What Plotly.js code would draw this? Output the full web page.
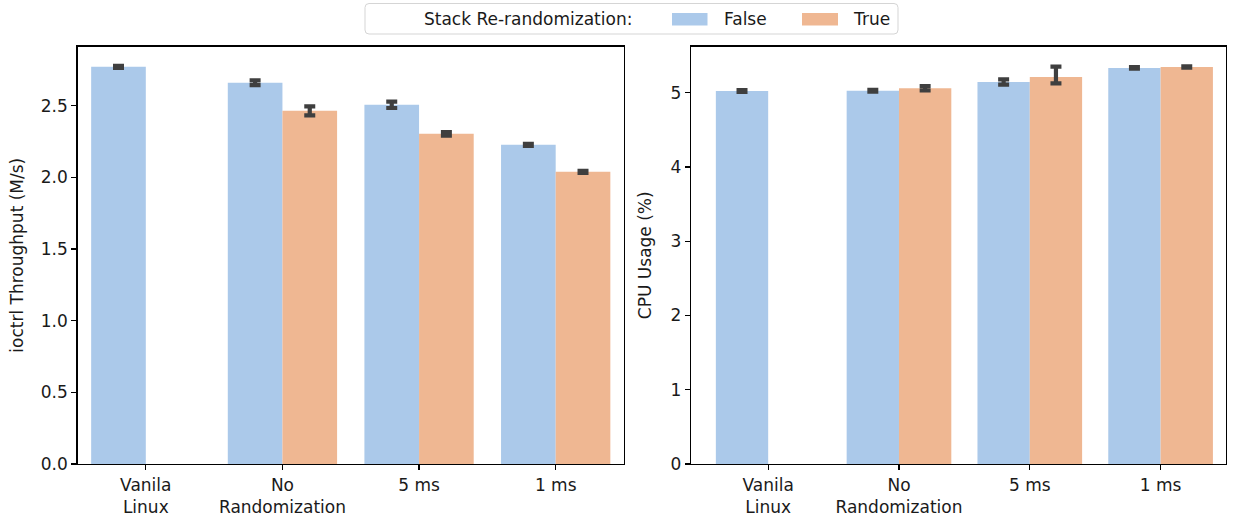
<!DOCTYPE html>
<html>
<head>
<meta charset="utf-8">
<script src="https://cdn.plot.ly/plotly-3.0.1.min.js"></script>
<style>
  html, body { margin: 0; padding: 0; background: #ffffff; }
  #chart { width: 1238px; height: 516px; }
</style>
</head>
<body>
<div id="chart"></div>
<script>
// ---- data ----
const categories = ["Vanila<br>Linux", "No<br>Randomization", "5 ms", "1 ms"];
const seriesNames = ["False", "True"];
const legendTitle = "Stack Re-randomization:";

// ioctrl throughput (M/s)
const thrFalse = [2.770, 2.659, 2.505, 2.226];
const thrFalseErrUp = [0.007, 0.017, 0.022, 0.007];
const thrFalseErrDn = [0.007, 0.017, 0.022, 0.007];
const thrTrue = [null, 2.463, 2.303, 2.038];
const thrTrueErrUp = [0, 0.031, 0.012, 0.007];
const thrTrueErrDn = [0, 0.031, 0.012, 0.007];

// CPU usage (%)
const cpuFalse = [5.023, 5.025, 5.144, 5.333];
const cpuFalseErrUp = [0.012, 0.012, 0.036, 0.010];
const cpuFalseErrDn = [0.012, 0.012, 0.036, 0.010];
const cpuTrue = [null, 5.060, 5.211, 5.346];
const cpuTrueErrUp = [0, 0.030, 0.140, 0.010];
const cpuTrueErrDn = [0, 0.030, 0.086, 0.010];

const yTitles = ["ioctrl Throughput (M/s)", "CPU Usage (%)"];

// ---- style ----
const W = 1238, H = 516;
const colFalse = "#abc9ea";
const colTrue = "#efb792";
const errCol = "#3f3f3f";
const FONT = "DejaVu Sans";
const FS = 17;
const TXT = "#1a1a1a";

function bar(x, y, up, dn, name, color, xa, ya) {
  return {
    type: "bar", x: x, y: y, name: name, xaxis: xa, yaxis: ya,
    marker: { color: color, line: { width: 0 } },
    showlegend: false,
    error_y: { type: "data", symmetric: false, array: up, arrayminus: dn,
               color: errCol, thickness: 4.2, width: 5.5 },
    hoverinfo: "x+y"
  };
}

const traces = [
  bar(categories, thrFalse, thrFalseErrUp, thrFalseErrDn, seriesNames[0], colFalse, "x", "y"),
  bar(categories, thrTrue, thrTrueErrUp, thrTrueErrDn, seriesNames[1], colTrue, "x", "y"),
  bar(categories, cpuFalse, cpuFalseErrUp, cpuFalseErrDn, seriesNames[0], colFalse, "x2", "y2"),
  bar(categories, cpuTrue, cpuTrueErrUp, cpuTrueErrDn, seriesNames[1], colTrue, "x2", "y2")
];

const px = v => v / W;
const py = v => 1 - v / H;

const axCommon = {
  showline: true, linecolor: "#000000", linewidth: 1.25, mirror: true,
  ticks: "outside", ticklen: 5, tickwidth: 1.25, tickcolor: "#000000",
  showgrid: false, zeroline: false,
  tickfont: { family: FONT, size: FS, color: TXT },
  fixedrange: true
};

const yDom = [1 - 464 / H, 1 - 46.5 / H];

const layout = {
  width: W, height: H,
  margin: { l: 0, r: 0, t: 0, b: 0 },
  paper_bgcolor: "#ffffff", plot_bgcolor: "#ffffff",
  barmode: "group", bargap: 0.2, bargroupgap: 0,
  font: { family: FONT, size: FS, color: TXT },
  showlegend: false,
  xaxis: Object.assign({}, axCommon, { domain: [px(77.5), px(624)], anchor: "y",
    type: "category", range: [-0.5, 3.5] }),
  yaxis: Object.assign({}, axCommon, { domain: yDom, anchor: "x",
    range: [0, 2.912], tickvals: [0, 0.5, 1, 1.5, 2, 2.5], tickformat: ".1f",
    title: { text: yTitles[0], font: { family: FONT, size: FS, color: TXT }, standoff: 12 } }),
  xaxis2: Object.assign({}, axCommon, { domain: [px(691), px(1226)], anchor: "y2",
    type: "category", range: [-0.59, 3.5] }),
  yaxis2: Object.assign({}, axCommon, { domain: yDom, anchor: "x2",
    range: [0, 5.622], tickvals: [0, 1, 2, 3, 4, 5],
    title: { text: yTitles[1], font: { family: FONT, size: FS, color: TXT }, standoff: 14 } }),
  shapes: [],
  annotations: []
};

// legend box (rounded)
(function () {
  const x0 = 365, x1 = 898, y0 = 3.5, y1 = 34, r = 4;
  const P = (x, y) => px(x) + "," + py(y);
  const path = "M" + P(x0 + r, y0) + " L" + P(x1 - r, y0) + " Q" + P(x1, y0) + " " + P(x1, y0 + r) +
    " L" + P(x1, y1 - r) + " Q" + P(x1, y1) + " " + P(x1 - r, y1) +
    " L" + P(x0 + r, y1) + " Q" + P(x0, y1) + " " + P(x0, y1 - r) +
    " L" + P(x0, y0 + r) + " Q" + P(x0, y0) + " " + P(x0 + r, y0) + " Z";
  layout.shapes.push({ type: "path", xref: "paper", yref: "paper", path: path,
    line: { color: "#d5d5d5", width: 1 }, fillcolor: "rgba(255,255,255,0.8)", layer: "above" });
  const sw = [[672, 707.5, colFalse, 722, seriesNames[0]], [802, 838, colTrue, 851, seriesNames[1]]];
  sw.forEach(s => {
    layout.shapes.push({ type: "rect", xref: "paper", yref: "paper",
      x0: px(s[0]), x1: px(s[1]), y0: py(25.5), y1: py(13), fillcolor: s[2], line: { width: 0 }, layer: "above" });
    layout.annotations.push({ xref: "paper", yref: "paper", x: px(s[3]), y: py(19), xanchor: "left", yanchor: "middle",
      text: s[4], showarrow: false, font: { family: FONT, size: FS, color: TXT } });
  });
  layout.annotations.push({ xref: "paper", yref: "paper", x: px(422), y: py(19), xanchor: "left", yanchor: "middle",
    text: legendTitle, showarrow: false, font: { family: FONT, size: FS, color: TXT } });
})();

Plotly.newPlot("chart", traces, layout, { displayModeBar: false, staticPlot: true });
</script>
</body>
</html>
